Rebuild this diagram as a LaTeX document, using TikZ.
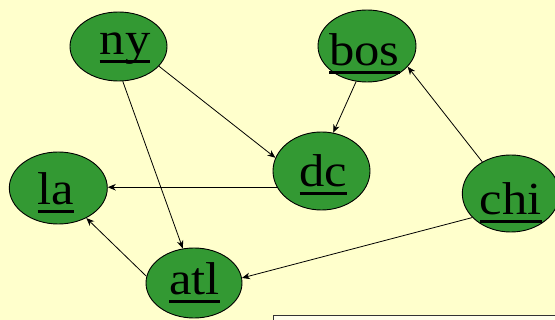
\documentclass[tikz,border=0pt]{standalone}
\usepackage{fontspec}
\setmainfont[FakeStretch=1.1]{Liberation Serif}
\usetikzlibrary{shapes.geometric,arrows.meta}
\definecolor{bgyellow}{HTML}{FFFFCC}
\definecolor{nodegreen}{HTML}{339933}
\newcommand{\myul}[1]{\setbox0=\hbox{#1}\rlap{\rule[-8pt]{\wd0}{2.8pt}}\box0}
\tikzset{
  city/.style={ellipse, draw=black, line width=0.9pt, fill=nodegreen, inner sep=0pt},
  citytext/.style={anchor=base, inner sep=0pt, font=\fontsize{46}{50}\selectfont},
  link/.style={draw=black, line width=0.8pt, -{Stealth[length=8pt,width=6.5pt,inset=2.5pt]}}
}
\begin{document}
\begin{tikzpicture}[x=1pt,y=-1pt]
\clip (0,0) rectangle (555,320);
\fill[bgyellow] (0,0) rectangle (555,320);
\useasboundingbox (0,0) rectangle (555,320);
% ellipses
\node[city, minimum width=97pt, minimum height=69pt] (ny) at (118.5,46.5) {};
\node[city, minimum width=98pt, minimum height=72pt] (bos) at (367,46) {};
\node[city, minimum width=97pt, minimum height=78pt] (dc) at (321.5,171) {};
\node[city, minimum width=97pt, minimum height=77pt] (chi) at (510.8,193.5) {};
\node[city, minimum width=98pt, minimum height=72pt] (la) at (58.3,188) {};
\node[city, minimum width=96pt, minimum height=70pt] (atl) at (194,283) {};
% labels
\node[citytext] (nyt) at (125,55) {\myul{ny}};
\node[citytext] (bost) at (364.5,66) {\myul{bos}};
\node[citytext] (dct) at (323.5,186.7) {\myul{dc}};
\node[citytext] (chit) at (510.7,215) {\myul{chi}};
\node[citytext] (lat) at (56,205) {\myul{la}};
\node[citytext] (atlt) at (194.7,295) {\myul{atl}};
% connectors
\draw[link] (ny.-26) -- (dc.164);
\draw[link] (ny.-83) -- (atl.108);
\draw[link] (dc.200) -- (dc.200 -| la.east);
\draw[link] (atl.172) -- (la.-47);
\draw[link] (bos.-107) -- (dc.73);
\draw[link] (chi.132) -- (bos.-27);
\draw[link] (chi.-148) -- (atl.6);
% box at bottom right
\draw[draw=black!80, line width=1.2pt, fill=bgyellow!40] (273.5,315.5) rectangle (600,360);
\end{tikzpicture}
\end{document}
